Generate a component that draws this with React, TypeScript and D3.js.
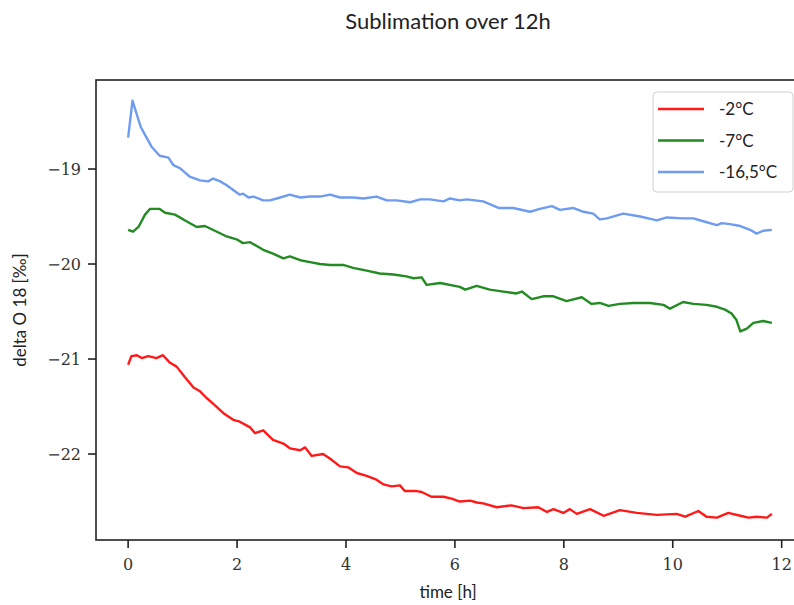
import React from "react";
import * as d3 from "d3";

// ---- data (time [h], delta O 18 [‰]) ----
const seriesNames = ["-2°C", "-7°C", "-16,5°C"];
const seriesColors = ["#ff1a1a", "#228b22", "#6f9cf0"];

const redData: [number, number][] = [
  [0, -21.06], [0.06, -20.97], [0.16, -20.96], [0.25, -20.99], [0.37, -20.97], [0.52, -20.99],
  [0.64, -20.96], [0.77, -21.04], [0.89, -21.08], [1.04, -21.19], [1.2, -21.3], [1.32, -21.34],
  [1.44, -21.41], [1.56, -21.47], [1.75, -21.57], [1.93, -21.64], [2.05, -21.66], [2.24, -21.72],
  [2.33, -21.78], [2.48, -21.75], [2.66, -21.85], [2.85, -21.89], [2.97, -21.94], [3.16, -21.96],
  [3.25, -21.93], [3.37, -22.02], [3.58, -22.0], [3.71, -22.05], [3.89, -22.13], [4.04, -22.14],
  [4.2, -22.2], [4.38, -22.23], [4.56, -22.27], [4.69, -22.32], [4.84, -22.34], [4.99, -22.33],
  [5.08, -22.39], [5.3, -22.39], [5.39, -22.4], [5.57, -22.45], [5.79, -22.45], [5.94, -22.47],
  [6.09, -22.5], [6.28, -22.49], [6.4, -22.51], [6.52, -22.52], [6.77, -22.56], [7.04, -22.54],
  [7.26, -22.57], [7.53, -22.56], [7.69, -22.61], [7.81, -22.58], [7.99, -22.62], [8.11, -22.58],
  [8.24, -22.63], [8.48, -22.58], [8.73, -22.65], [9.03, -22.59], [9.34, -22.62], [9.71, -22.64],
  [10.07, -22.63], [10.23, -22.66], [10.47, -22.6], [10.62, -22.66], [10.81, -22.67], [11.02, -22.62],
  [11.24, -22.65], [11.39, -22.67], [11.54, -22.66], [11.73, -22.67], [11.82, -22.63],
];

const greenData: [number, number][] = [
  [0, -19.64], [0.09, -19.66], [0.19, -19.61], [0.31, -19.48], [0.4, -19.42], [0.58, -19.42],
  [0.68, -19.46], [0.86, -19.48], [1.07, -19.55], [1.26, -19.61], [1.41, -19.6], [1.63, -19.66],
  [1.81, -19.71], [1.99, -19.74], [2.11, -19.78], [2.24, -19.77], [2.48, -19.85], [2.66, -19.89],
  [2.85, -19.94], [2.97, -19.92], [3.16, -19.96], [3.34, -19.98], [3.52, -20.0], [3.71, -20.01],
  [3.95, -20.01], [4.13, -20.04], [4.38, -20.07], [4.62, -20.1], [4.87, -20.11], [5.11, -20.13],
  [5.24, -20.15], [5.39, -20.14], [5.48, -20.22], [5.73, -20.2], [6.09, -20.24], [6.19, -20.27],
  [6.4, -20.23], [6.64, -20.27], [6.89, -20.29], [7.13, -20.31], [7.23, -20.29], [7.41, -20.37],
  [7.62, -20.34], [7.81, -20.34], [8.05, -20.39], [8.33, -20.35], [8.51, -20.42], [8.66, -20.41],
  [8.82, -20.44], [9.03, -20.42], [9.28, -20.41], [9.58, -20.41], [9.83, -20.43], [9.95, -20.47],
  [10.19, -20.4], [10.38, -20.42], [10.62, -20.43], [10.81, -20.45], [10.96, -20.48], [11.08, -20.52],
  [11.17, -20.59], [11.24, -20.71], [11.36, -20.68], [11.48, -20.62], [11.66, -20.6], [11.82, -20.62],
];

const blueData: [number, number][] = [
  [0, -18.67], [0.08, -18.28], [0.23, -18.555], [0.31, -18.64], [0.43, -18.765], [0.58, -18.86],
  [0.74, -18.88], [0.83, -18.96], [0.95, -18.99], [1.13, -19.08], [1.32, -19.12], [1.47, -19.13],
  [1.56, -19.1], [1.69, -19.13], [1.81, -19.17], [1.93, -19.22], [2.05, -19.27], [2.11, -19.26],
  [2.21, -19.3], [2.3, -19.29], [2.48, -19.33], [2.6, -19.33], [2.73, -19.31], [2.97, -19.27],
  [3.16, -19.3], [3.34, -19.29], [3.52, -19.29], [3.71, -19.27], [3.89, -19.3], [4.13, -19.3],
  [4.32, -19.31], [4.56, -19.29], [4.75, -19.33], [4.93, -19.33], [5.18, -19.35], [5.36, -19.32],
  [5.54, -19.32], [5.79, -19.34], [5.91, -19.31], [6.09, -19.33], [6.22, -19.32], [6.52, -19.34],
  [6.8, -19.41], [7.07, -19.41], [7.38, -19.45], [7.56, -19.42], [7.78, -19.39], [7.93, -19.43],
  [8.17, -19.41], [8.36, -19.45], [8.54, -19.47], [8.66, -19.53], [8.79, -19.52], [9.09, -19.47],
  [9.4, -19.5], [9.71, -19.54], [9.89, -19.51], [10.19, -19.52], [10.38, -19.52], [10.56, -19.55],
  [10.81, -19.59], [10.9, -19.57], [11.05, -19.58], [11.24, -19.6], [11.42, -19.64], [11.54, -19.68],
  [11.66, -19.65], [11.82, -19.64],
];

const xTicks = [0, 2, 4, 6, 8, 10, 12];
const yTicks = [-19, -20, -21, -22];

const titleText = "Sublimation over 12h";
const xLabel = "time [h]";
const yLabel = "delta O 18 [‰]";

export default function App() {
  const W = 794, H = 605;
  const left = 96, top = 80, bottom = 540, right = 804;
  const x = d3.scaleLinear().domain([-0.59, 12.41]).range([left, right]);
  const y = d3.scaleLinear().domain([-22.905, -18.063]).range([bottom, top]);
  const line = d3.line<[number, number]>().x((d) => x(d[0])).y((d) => y(d[1]));
  const all = [redData, greenData, blueData];
  const sans = "Lato, 'DejaVu Sans', sans-serif";
  const serif = "'DejaVu Serif', serif";
  const tickLen = 8;
  const fmt = (v: number) => (v < 0 ? "\u2212" + Math.abs(v) : String(v));

  return (
    <svg width={W} height={H} style={{ position: "absolute", left: 0, top: 0, background: "#fff" }}>
      <rect x={0} y={0} width={W} height={H} fill="#fff" />
      <text x={448} y={29} textAnchor="middle" fontFamily={sans} fontSize={22} fill="#222">
        {titleText}
      </text>
      <g>
        {all.map((data, i) => (
          <path key={i} d={line(data) || ""} fill="none" stroke={seriesColors[i]} strokeWidth={2.4} strokeLinejoin="round" />
        ))}
      </g>
      {/* spines */}
      <rect x={left} y={top} width={right - left} height={bottom - top} fill="none" stroke="#222" strokeWidth={1.6} />
      {/* x ticks */}
      {xTicks.map((t) => (
        <g key={"x" + t}>
          <line x1={x(t)} x2={x(t)} y1={bottom} y2={bottom + tickLen} stroke="#222" strokeWidth={1.6} />
          <text x={x(t)} y={570} textAnchor="middle" fontFamily={serif} fontSize={16} fill="#333">
            {fmt(t)}
          </text>
        </g>
      ))}
      {/* y ticks */}
      {yTicks.map((t) => (
        <g key={"y" + t}>
          <line x1={left - tickLen} x2={left} y1={y(t)} y2={y(t)} stroke="#222" strokeWidth={1.6} />
          <text x={81} y={y(t) + 5.5} textAnchor="end" fontFamily={serif} fontSize={16} fill="#333">
            {fmt(t)}
          </text>
        </g>
      ))}
      <text x={448} y={598} textAnchor="middle" fontFamily={sans} fontSize={17} fill="#222">
        {xLabel}
      </text>
      <text
        transform={`translate(26, ${(top + bottom) / 2}) rotate(-90)`}
        textAnchor="middle"
        fontFamily={sans}
        fontSize={17}
        fill="#222"
      >
        {yLabel}
      </text>
      {/* legend */}
      <rect x={653} y={92} width={140} height={100} rx={4} fill="#fff" fillOpacity={0.8} stroke="#d0d0d0" strokeWidth={1} />
      {seriesNames.map((name, i) => (
        <g key={name}>
          <line x1={658} x2={704} y1={109 + i * 31.5} y2={109 + i * 31.5} stroke={seriesColors[i]} strokeWidth={2.4} />
          <text x={719} y={109 + i * 31.5 + 6} fontFamily={sans} fontSize={17} fill="#222">
            {name}
          </text>
        </g>
      ))}
    </svg>
  );
}
